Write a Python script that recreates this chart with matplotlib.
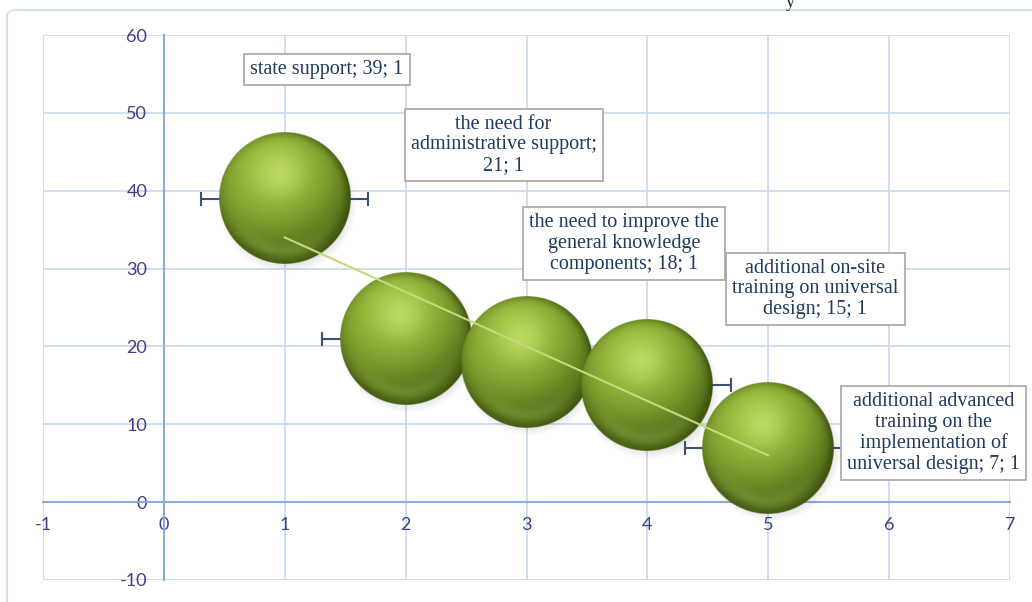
import numpy as np
import matplotlib.pyplot as plt
from matplotlib.patches import FancyBboxPatch

plt.rcParams["axes.unicode_minus"] = False

# bubble series
x_vals = [1, 2, 3, 4, 5]
y_vals = [39, 21, 18, 15, 7]
sizes = [1, 1, 1, 1, 1]
x_err = [0.69, 0.69, 0.69, 0.69, 0.69]
labels = [
    "state support; 39; 1",
    "the need for\nadministrative support;\n21; 1",
    "the need to improve the\ngeneral knowledge\ncomponents; 18; 1",
    "additional on-site\ntraining on universal\ndesign; 15; 1",
    "additional advanced\ntraining on the\nimplementation of\nuniversal design; 7; 1",
]
# where each data label box sits (data coords)
label_x = [1.35, 2.81, 3.81, 5.39, 6.37]
label_y = [55.6, 45.9, 33.2, 27.4, 8.9]

xticks = [-1, 0, 1, 2, 3, 4, 5, 6, 7]
yticks = [-10, 0, 10, 20, 30, 40, 50, 60]

W, H, DPI = 1032, 602, 100
fig = plt.figure(figsize=(W / DPI, H / DPI), dpi=DPI)
fig.patch.set_facecolor("white")

# outer chart border
fig.patches.append(FancyBboxPatch((7 / W, -0.05), 1.2, 1 - 10 / H + 0.05,
                                  boxstyle="round,pad=0,rounding_size=0.01",
                                  transform=fig.transFigure, fc="none",
                                  ec="#d3e0f1", lw=1.5))
# remains of the cut-off title
fig.text(790 / W, 1 - 7 / H, "y", fontsize=13, family="Liberation Serif",
         va="baseline", ha="center", color="#222222")

left, right, top, bottom = 43, 1010, 35, 580
ax = fig.add_axes([left / W, 1 - bottom / H, (right - left) / W, (bottom - top) / H])
xmin, xmax, ymin, ymax = -1, 7, -10, 60

# shaded sphere image
N = 300
yy, xx = np.mgrid[-1:1:N * 1j, -1:1:N * 1j]
r = np.sqrt(xx ** 2 + yy ** 2)
nz = np.sqrt(np.clip(1 - r ** 2, 0, 1))
L = np.array([-0.2, 0.5, 0.84])
L = L / np.linalg.norm(L)
diff = np.clip(xx * L[0] - yy * L[1] + nz * L[2], 0, 1)
dark = np.array([0.28, 0.38, 0.07])
mid = np.array([0.61, 0.75, 0.24])
light = np.array([0.84, 0.94, 0.50])
col = dark + (mid - dark) * diff[..., None] ** 1.0
spec = np.exp(-((xx + 0.08) ** 2 + (yy + 0.36) ** 2) / 0.12)
col = col + (light - col) * (0.55 * spec)[..., None]
refl = np.clip(yy, 0, 1) ** 2 * np.exp(-((r - 0.80) ** 2) / 0.015) * 0.45
col = col + (np.array([0.72, 0.82, 0.40]) - col) * refl[..., None]
rim = np.clip((r - 0.84) / 0.16, 0, 1) ** 2 * np.clip(0.5 + 0.5 * xx, 0, 1)
col = col + (np.array([0.20, 0.28, 0.04]) - col) * (0.65 * rim)[..., None]
alpha = np.clip((1 - r) * N / 2 + 0.5, 0, 1)
sphere = np.dstack([np.clip(col, 0, 1), alpha])

shadow = np.zeros((N, N, 4))
shadow[..., :3] = 0.35
shadow[..., 3] = 0.30 * np.clip((1.0 - r) / 0.25, 0, 1)

px_x = (right - left) / (xmax - xmin)
px_y = (bottom - top) / (ymax - ymin)
rad_px = 66 * np.sqrt(sizes[0])

ax.errorbar(x_vals, y_vals, xerr=x_err, fmt="none", ecolor="#3d4f75",
            elinewidth=1.5, capsize=5, capthick=1.5, zorder=2)

for i, (xv, yv, s) in enumerate(zip(x_vals, y_vals, sizes)):
    rp = rad_px * np.sqrt(s)
    rx, ry = rp / px_x, rp / px_y
    sx, sy = 3 / px_x, -5 / px_y
    ax.imshow(shadow, extent=(xv - rx * 1.05 + sx, xv + rx * 1.05 + sx,
                              yv - ry * 1.05 + sy, yv + ry * 1.05 + sy),
              origin="upper", aspect="auto", interpolation="bilinear", zorder=3 + 2 * i)
    ax.imshow(sphere, extent=(xv - rx, xv + rx, yv - ry, yv + ry),
              origin="upper", aspect="auto", interpolation="bilinear", zorder=4 + 2 * i)

# linear trend
k, b = np.polyfit(x_vals, y_vals, 1)
tx = np.array([min(x_vals), max(x_vals)])
ax.plot(tx, k * tx + b, color="#c3d97c", lw=1.5, zorder=20)

for txt, lx, ly in zip(labels, label_x, label_y):
    ax.text(lx, ly, txt, ha="center", va="center", multialignment="center",
            fontsize=14.5, family="Liberation Serif", color="#1f3a60",
            linespacing=1.12, zorder=25,
            bbox=dict(boxstyle="square,pad=0.3", fc="white", ec="#a6a6a6", lw=1.2))

ax.set_xlim(xmin, xmax)
ax.set_ylim(ymin, ymax)
ax.set_xticks(xticks)
ax.set_yticks(yticks)
ax.grid(True, color="#c8d8ee", lw=1.2, zorder=0)
ax.set_axisbelow(True)
for side in ["top", "right"]:
    ax.spines[side].set_visible(False)
ax.spines["left"].set_position(("data", 0))
ax.spines["bottom"].set_position(("data", 0))
for side in ["left", "bottom"]:
    ax.spines[side].set_color("#8eaad8")
    ax.spines[side].set_linewidth(1.5)
    ax.spines[side].set_zorder(1)
ax.tick_params(length=0, labelsize=13, labelcolor="#403e8a")
ax.tick_params(axis="y", pad=12)
ax.tick_params(axis="x", pad=11)
for lab in ax.get_xticklabels() + ax.get_yticklabels():
    lab.set_family("Lato")
ax.patch.set_alpha(0)

fig.savefig("out.png", dpi=DPI)
